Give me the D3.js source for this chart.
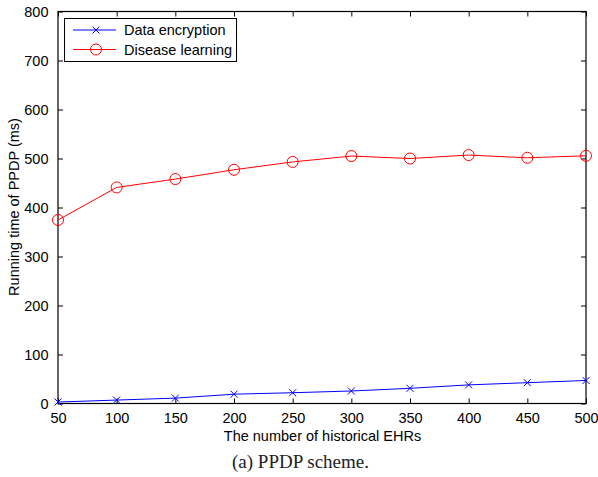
<!DOCTYPE html>
<html>
<head>
<meta charset="utf-8">
<script src="https://cdn.jsdelivr.net/npm/d3@7"></script>
<style>
  html, body { margin: 0; padding: 0; background: #fff; }
  svg { display: block; }
</style>
</head>
<body>
<svg id="chart" width="598" height="477"></svg>
<script>
// Number of historical EHRs (x axis)
const ehrCounts = [50, 100, 150, 200, 250, 300, 350, 400, 450, 500];
// Running time in ms
const encryptionMs = [3, 7, 11, 19, 22, 25.5, 31, 38, 42.5, 47];
const learningMs = [374.5, 441, 458, 477, 493, 505, 500, 507, 501.5, 505.5];
const xTicks = [50, 100, 150, 200, 250, 300, 350, 400, 450, 500];
const yTicks = [0, 100, 200, 300, 400, 500, 600, 700, 800];
const seriesNames = ["Data encryption", "Disease learning"];

const svg = d3.select("#chart");
const plotLeft = 58, plotRight = 586, plotTop = 11.5, plotBottom = 403.5;
const font = "'Liberation Sans', Arial, Helvetica, sans-serif";
const fs = 14.5;

const x = d3.scaleLinear().domain([50, 500]).range([plotLeft, plotRight]);
const y = d3.scaleLinear().domain([0, 800]).range([plotBottom, plotTop]);

// Axes with inward ticks on all four sides
const tickLen = 5;
const axB = svg.append("g").attr("transform", `translate(0,${plotBottom})`)
  .call(d3.axisBottom(x).tickValues(xTicks).tickSizeInner(-tickLen).tickSizeOuter(0).tickPadding(9));
const axT = svg.append("g").attr("transform", `translate(0,${plotTop})`)
  .call(d3.axisTop(x).tickValues(xTicks).tickSizeInner(-tickLen).tickSizeOuter(0).tickFormat(""));
const axL = svg.append("g").attr("transform", `translate(${plotLeft},0)`)
  .call(d3.axisLeft(y).tickValues(yTicks).tickSizeInner(-tickLen).tickSizeOuter(0).tickPadding(10));
const axR = svg.append("g").attr("transform", `translate(${plotRight},0)`)
  .call(d3.axisRight(y).tickValues(yTicks).tickSizeInner(-tickLen).tickSizeOuter(0).tickFormat(""));

[axB, axT, axL, axR].forEach(g => {
  g.select(".domain").remove();
  g.selectAll(".tick line").attr("stroke", "#000").attr("stroke-width", 1);
  g.selectAll("text").attr("font-family", font).attr("font-size", fs).attr("fill", "#000");
});
axL.selectAll("text").attr("dx", "0.5");

// Frame
svg.append("rect")
  .attr("x", plotLeft).attr("y", plotTop)
  .attr("width", plotRight - plotLeft).attr("height", plotBottom - plotTop)
  .attr("fill", "none").attr("stroke", "#000").attr("stroke-width", 1.2);

const line = d3.line().x(d => x(d[0])).y(d => y(d[1]));

function crossPath(cx, cy, s) {
  return `M${cx - s},${cy - s}L${cx + s},${cy + s}M${cx - s},${cy + s}L${cx + s},${cy - s}`;
}

// Disease learning series (red, circles)
const learnPts = ehrCounts.map((c, i) => [c, learningMs[i]]);
svg.append("path").datum(learnPts)
  .attr("d", line).attr("fill", "none").attr("stroke", "#ff0000").attr("stroke-width", 1);
svg.append("g").selectAll("circle").data(learnPts).join("circle")
  .attr("cx", d => x(d[0])).attr("cy", d => y(d[1])).attr("r", 5.5)
  .attr("fill", "none").attr("stroke", "#ff0000").attr("stroke-width", 1);

// Data encryption series (blue, crosses)
const encPts = ehrCounts.map((c, i) => [c, encryptionMs[i]]);
svg.append("path").datum(encPts)
  .attr("d", line).attr("fill", "none").attr("stroke", "#0000ff").attr("stroke-width", 1);
svg.append("g").selectAll("path").data(encPts).join("path")
  .attr("d", d => crossPath(x(d[0]), y(d[1]), 3.5))
  .attr("fill", "none").attr("stroke", "#0000ff").attr("stroke-width", 1);

// Legend
const lg = svg.append("g");
lg.append("rect").attr("x", 64.5).attr("y", 18.5).attr("width", 172).attr("height", 43)
  .attr("fill", "#fff").attr("stroke", "#000").attr("stroke-width", 1);
const legendRows = [
  { name: seriesNames[0], color: "#0000ff", marker: "x", cy: 30 },
  { name: seriesNames[1], color: "#ff0000", marker: "o", cy: 49.5 }
];
legendRows.forEach(r => {
  lg.append("line").attr("x1", 73).attr("x2", 116).attr("y1", r.cy).attr("y2", r.cy)
    .attr("stroke", r.color).attr("stroke-width", 1);
  if (r.marker === "x") {
    lg.append("path").attr("d", crossPath(96, r.cy, 3.5)).attr("stroke", r.color).attr("fill", "none");
  } else {
    lg.append("circle").attr("cx", 96).attr("cy", r.cy).attr("r", 5.5)
      .attr("stroke", r.color).attr("fill", "none");
  }
  lg.append("text").attr("x", 124).attr("y", r.cy).attr("dy", "0.35em")
    .attr("font-family", font).attr("font-size", fs).attr("fill", "#000").text(r.name);
});

// Axis titles
svg.append("text").attr("x", (plotLeft + plotRight) / 2 + 0.5).attr("y", 440.5)
  .attr("text-anchor", "middle").attr("font-family", font).attr("font-size", fs)
  .text("The number of historical EHRs");
svg.append("text").attr("transform", "translate(19,207) rotate(-90)")
  .attr("text-anchor", "middle").attr("font-family", font).attr("font-size", fs)
  .text("Running time of PPDP (ms)");

// Caption
svg.append("text").attr("x", 300.5).attr("y", 468)
  .attr("text-anchor", "middle").attr("font-family", "'Liberation Serif', 'Times New Roman', serif")
  .attr("font-size", 19).attr("fill", "#222").text("(a) PPDP scheme.");
</script>
</body>
</html>
